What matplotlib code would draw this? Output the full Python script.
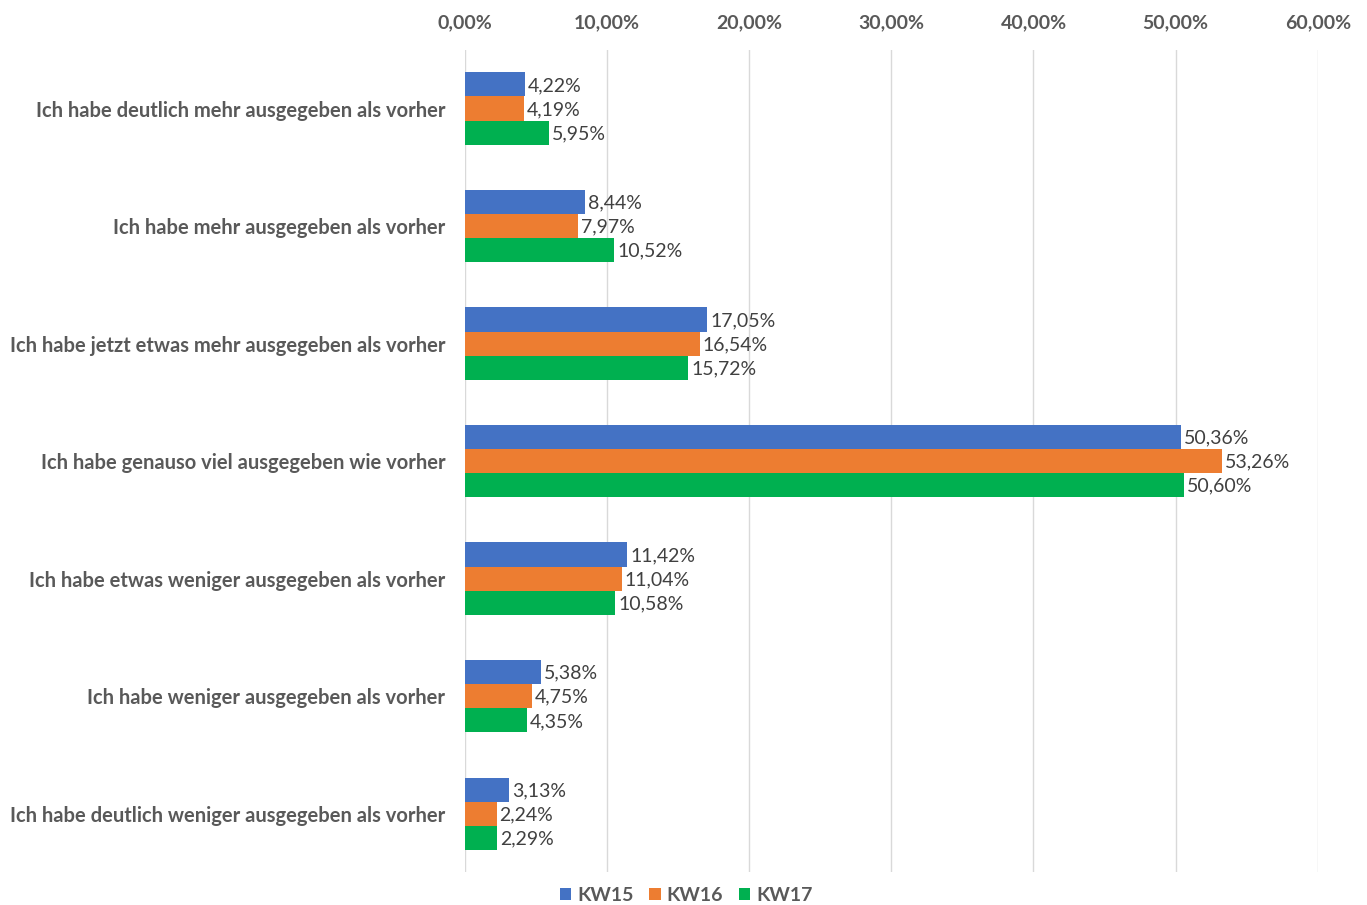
import matplotlib.pyplot as plt
import numpy as np

plt.rcParams['font.family'] = ['Lato', 'DejaVu Sans']

categories = ['Ich habe deutlich mehr ausgegeben als vorher',
              'Ich habe mehr ausgegeben als vorher',
              'Ich habe jetzt etwas mehr ausgegeben als vorher',
              'Ich habe genauso viel ausgegeben wie vorher',
              'Ich habe etwas weniger ausgegeben als vorher',
              'Ich habe weniger ausgegeben als vorher',
              'Ich habe deutlich weniger ausgegeben als vorher']

kw15 = [4.22, 8.44, 17.05, 50.36, 11.42, 5.38, 3.13]
kw16 = [4.19, 7.97, 16.54, 53.26, 11.04, 4.75, 2.24]
kw17 = [5.95, 10.52, 15.72, 50.60, 10.58, 4.35, 2.29]

series = [('KW15', kw15, '#4472C4'), ('KW16', kw16, '#ED7D31'), ('KW17', kw17, '#00B050')]

fig = plt.figure(figsize=(13.67, 9.05), dpi=100)
ax = fig.add_axes([0.340, 0.036, 0.624, 0.909])

y = np.arange(len(categories))
h = 0.205
for i, (name, vals, col) in enumerate(series):
    pos = y + (i - 1) * h
    ax.barh(pos, vals, height=h, color=col, label=name, zorder=3)
    for p, v in zip(pos, vals):
        ax.text(v + 0.2, p + 0.01, f'{v:.2f}%'.replace('.', ','), va='center', ha='left',
                fontsize=14, color='#404040')

ax.set_ylim(len(categories) - 0.5, -0.5)
ax.set_xlim(0, 60)
ax.set_xticks(np.arange(0, 61, 10))
ax.set_xticklabels([f'{t},00%' for t in range(0, 61, 10)])
ax.xaxis.tick_top()
ax.tick_params(axis='x', length=0, pad=13, labelsize=14, labelcolor='#595959')
for lab in ax.get_xticklabels():
    lab.set_fontweight('bold')
ax.set_yticks(y)
ax.set_yticklabels(categories, fontsize=14.5, fontweight='bold', color='#595959')
ax.tick_params(axis='y', length=0, pad=14)
ax.grid(axis='x', color='#D9D9D9', linewidth=1, zorder=0)
for s in ax.spines.values():
    s.set_visible(False)

fig.legend(loc='lower center', bbox_to_anchor=(0.502, -0.018), ncol=3, frameon=False,
           handlelength=0.6, handleheight=0.6, handletextpad=0.3,
           columnspacing=0.8, labelcolor='#595959', prop={'weight': 'bold', 'size': 14})

fig.savefig('out.png', dpi=100)
